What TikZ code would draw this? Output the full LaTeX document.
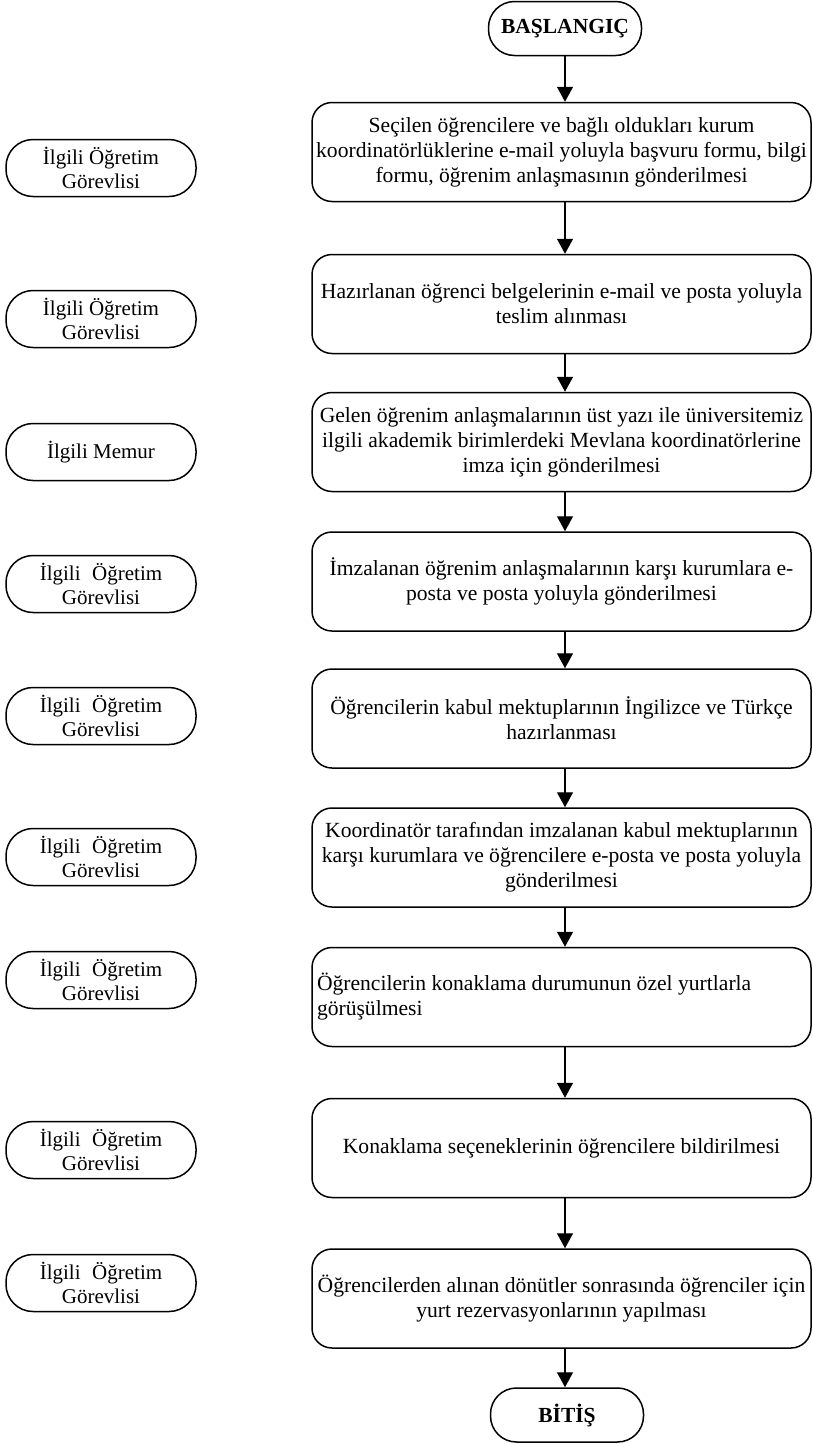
\documentclass[tikz,border=0pt]{standalone}
\usepackage{fontspec}
\setmainfont{Liberation Serif}
\usetikzlibrary{arrows.meta}
\tikzset{
  stepbox/.style={draw, line width=1.5pt, rounded corners=20pt, minimum width=499pt, minimum height=99pt, align=center, font=\fontsize{21.6}{25}\selectfont, inner sep=4pt},
  term/.style={draw, line width=1.5pt, rounded corners=26pt, minimum width=153pt, minimum height=54pt, align=center, font=\fontsize{21.5}{25}\selectfont\bfseries},
  actor/.style={draw, line width=1.5pt, rounded corners=27pt, minimum width=190pt, minimum height=57pt, align=center, font=\fontsize{21}{24}\selectfont, inner sep=2pt},
  arr/.style={line width=1.4pt, -{Triangle[width=16pt,length=15pt]}}
}
\begin{document}
\begin{tikzpicture}[x=1pt,y=-1pt]
\useasboundingbox (0,0) rectangle (813,1444);
\node[term] (start) at (565,28.5) {BAŞLANGIÇ};
\node[stepbox] (b1) at (561.5,152) {Seçilen öğrencilere ve bağlı oldukları kurum\\koordinatörlüklerine e-mail yoluyla başvuru formu, bilgi\\formu, öğrenim anlaşmasının gönderilmesi};
\node[stepbox] (b2) at (561.5,304) {Hazırlanan öğrenci belgelerinin e-mail ve posta yoluyla\\teslim alınması};
\node[stepbox] (b3) at (561.5,442) {Gelen öğrenim anlaşmalarının üst yazı ile üniversitemiz\\ilgili akademik birimlerdeki Mevlana koordinatörlerine\\imza için gönderilmesi};
\node[stepbox] (b4) at (561.5,581.5) {İmzalanan öğrenim anlaşmalarının karşı kurumlara e-\\posta ve posta yoluyla gönderilmesi};
\node[stepbox] (b5) at (561.5,718.5) {Öğrencilerin kabul mektuplarının İngilizce ve Türkçe\\hazırlanması};
\node[stepbox] (b6) at (561.5,857.5) {Koordinatör tarafından imzalanan kabul mektuplarının\\karşı kurumlara ve öğrencilere e-posta ve posta yoluyla\\gönderilmesi};
\node[stepbox, text width=489pt, align=flush left] (b7) at (561.5,997) {Öğrencilerin konaklama durumunun özel yurtlarla\\görüşülmesi};
\node[stepbox] (b8) at (561.5,1148) {Konaklama seçeneklerinin öğrencilere bildirilmesi};
\node[stepbox] (b9) at (561.5,1298.5) {Öğrencilerden alınan dönütler sonrasında öğrenciler için\\yurt rezervasyonlarının yapılması};
\node[term] (end) at (567,1415) {BİTİŞ};

\node[actor] (a1) at (101,168) {İlgili Öğretim\\Görevlisi};
\node[actor] (a2) at (101,319) {İlgili Öğretim\\Görevlisi};
\node[actor] (a3) at (101,452) {İlgili Memur};
\node[actor] (a4) at (101,584) {İlgili\hspace{0.3em} Öğretim\\Görevlisi};
\node[actor] (a5) at (101,716) {İlgili\hspace{0.3em} Öğretim\\Görevlisi};
\node[actor] (a6) at (101,857) {İlgili\hspace{0.3em} Öğretim\\Görevlisi};
\node[actor] (a7) at (101,980) {İlgili\hspace{0.3em} Öğretim\\Görevlisi};
\node[actor] (a8) at (101,1150) {İlgili\hspace{0.3em} Öğretim\\Görevlisi};
\node[actor] (a9) at (101,1283) {İlgili\hspace{0.3em} Öğretim\\Görevlisi};

\draw[arr] (start.south) -- (start.south |- b1.north);
\draw[arr] (b1.south -| start) -- (b2.north -| start);
\draw[arr] (b2.south -| start) -- (b3.north -| start);
\draw[arr] (b3.south -| start) -- (b4.north -| start);
\draw[arr] (b4.south -| start) -- (b5.north -| start);
\draw[arr] (b5.south -| start) -- (b6.north -| start);
\draw[arr] (b6.south -| start) -- (b7.north -| start);
\draw[arr] (b7.south -| start) -- (b8.north -| start);
\draw[arr] (b8.south -| start) -- (b9.north -| start);
\draw[arr] (b9.south -| start) -- (end.north -| start);
\end{tikzpicture}
\end{document}
